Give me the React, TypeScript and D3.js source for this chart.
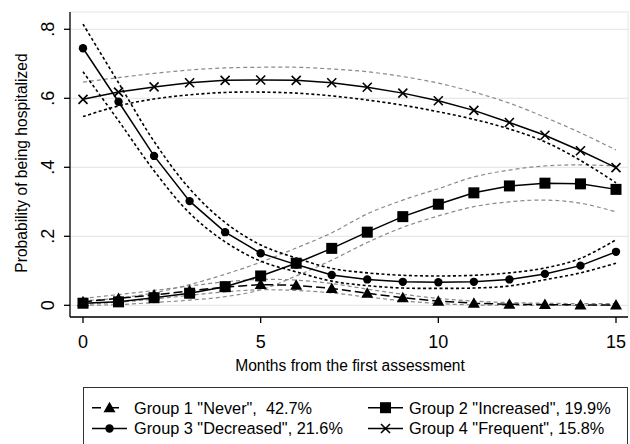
import React from 'react';
import * as d3 from 'd3';

// months from the first assessment
const months = [0, 1, 2, 3, 4, 5, 6, 7, 8, 9, 10, 11, 12, 13, 14, 15];

// Group 1 "Never"
const never = [0.01, 0.02, 0.03, 0.042, 0.053, 0.06, 0.058, 0.049, 0.035, 0.022, 0.012, 0.006, 0.003, 0.002, 0.001, 0.001];
const neverHi = [0.02, 0.031, 0.043, 0.056, 0.068, 0.075, 0.073, 0.063, 0.047, 0.032, 0.02, 0.012, 0.008, 0.006, 0.005, 0.005];
const neverLo = [0.003, 0.009, 0.018, 0.029, 0.039, 0.045, 0.043, 0.036, 0.024, 0.013, 0.005, 0.001, 0, 0, 0, 0];

// Group 2 "Increased"
const increased = [0.006, 0.01, 0.022, 0.035, 0.054, 0.085, 0.122, 0.165, 0.212, 0.257, 0.293, 0.326, 0.346, 0.354, 0.352, 0.336];
const increasedHi = [0.013, 0.021, 0.036, 0.06, 0.09, 0.125, 0.166, 0.21, 0.265, 0.305, 0.338, 0.372, 0.392, 0.404, 0.407, 0.404];
const increasedLo = [0, 0.002, 0.008, 0.015, 0.025, 0.045, 0.085, 0.131, 0.182, 0.226, 0.259, 0.286, 0.3, 0.305, 0.296, 0.271];

// Group 3 "Decreased"
const decreased = [0.745, 0.59, 0.433, 0.302, 0.212, 0.151, 0.118, 0.088, 0.075, 0.068, 0.067, 0.068, 0.075, 0.091, 0.115, 0.155];
const decreasedHi = [0.815, 0.645, 0.475, 0.338, 0.24, 0.175, 0.137, 0.107, 0.094, 0.087, 0.085, 0.087, 0.094, 0.108, 0.136, 0.19];
const decreasedLo = [0.677, 0.535, 0.39, 0.267, 0.184, 0.128, 0.097, 0.07, 0.057, 0.05, 0.049, 0.05, 0.056, 0.074, 0.094, 0.122];

// Group 4 "Frequent"
const frequent = [0.597, 0.618, 0.633, 0.645, 0.652, 0.653, 0.652, 0.645, 0.632, 0.615, 0.593, 0.565, 0.53, 0.493, 0.448, 0.399];
const frequentHi = [0.647, 0.66, 0.672, 0.682, 0.688, 0.69, 0.69, 0.685, 0.677, 0.663, 0.644, 0.618, 0.586, 0.545, 0.5, 0.45];
const frequentLo = [0.547, 0.578, 0.598, 0.61, 0.617, 0.618, 0.615, 0.607, 0.595, 0.58, 0.561, 0.539, 0.511, 0.474, 0.42, 0.355];

const xTicks = [0, 5, 10, 15];
const yTicks = [0, 0.2, 0.4, 0.6, 0.8];
const yTickLabels = ['0', '.2', '.4', '.6', '.8'];

const legendLabels = [
  'Group 1 "Never",  42.7%',
  'Group 2 "Increased", 19.9%',
  'Group 3 "Decreased", 21.6%',
  'Group 4 "Frequent", 15.8%',
];

const FONT = 'Arial, "Liberation Sans", Helvetica, sans-serif';
const GRAY = '#8a8a8a';

const Marker = ({ kind, cx, cy }: { kind: string; cx: number; cy: number }) => {
  if (kind === 'triangle') {
    const p = d3.path();
    p.moveTo(cx - 6, cy + 4.5);
    p.lineTo(cx + 6, cy + 4.5);
    p.lineTo(cx, cy - 6);
    p.closePath();
    return <path d={p.toString()} fill="#000" />;
  }
  if (kind === 'square') {
    return <rect x={cx - 5.5} y={cy - 5.5} width={11} height={11} fill="#000" />;
  }
  if (kind === 'circle') {
    return <circle cx={cx} cy={cy} r={4.2} fill="#000" />;
  }
  return (
    <g stroke="#000" strokeWidth={1.6}>
      <line x1={cx - 4.5} y1={cy - 4.5} x2={cx + 4.5} y2={cy + 4.5} />
      <line x1={cx - 4.5} y1={cy + 4.5} x2={cx + 4.5} y2={cy - 4.5} />
    </g>
  );
};

export default function App() {
  const width = 630;
  const height = 444;
  const plot = { left: 70, right: 628, top: 12, bottom: 317 };

  const x = d3.scaleLinear().domain([0, 15]).range([83, 616]);
  const y = d3.scaleLinear().domain([0, 0.8]).range([305.3, 29.3]);

  const line = (vals: number[], curve = d3.curveLinear) =>
    d3
      .line<number>()
      .x((_, i) => x(months[i]))
      .y((d) => y(d))
      .curve(curve)(vals) || '';

  const ciSmooth = d3.curveCatmullRom.alpha(0.5);

  const bands = [
    { vals: neverHi, color: GRAY, dash: '4 3', w: 1.2 },
    { vals: neverLo, color: GRAY, dash: '4 3', w: 1.2 },
    { vals: increasedHi, color: GRAY, dash: '4 3', w: 1.2 },
    { vals: increasedLo, color: GRAY, dash: '4 3', w: 1.2 },
    { vals: frequentHi, color: GRAY, dash: '4 3', w: 1.2 },
    { vals: decreasedHi, color: '#000', dash: '3 2.5', w: 1.6 },
    { vals: decreasedLo, color: '#000', dash: '3 2.5', w: 1.6 },
    { vals: frequentLo, color: '#000', dash: '3 2.5', w: 1.6 },
  ];

  const series = [
    { vals: never, kind: 'triangle', dash: '9 4' },
    { vals: increased, kind: 'square', dash: undefined },
    { vals: decreased, kind: 'circle', dash: undefined },
    { vals: frequent, kind: 'x', dash: undefined },
  ];

  const legendRows = [407.7, 428.5];
  const legendCols = [
    { x1: 92, x2: 127, text: 134 },
    { x1: 368, x2: 403, text: 409 },
  ];
  const legendItems = [
    { s: series[0], col: 0, row: 0, label: legendLabels[0] },
    { s: series[1], col: 1, row: 0, label: legendLabels[1] },
    { s: series[2], col: 0, row: 1, label: legendLabels[2] },
    { s: series[3], col: 1, row: 1, label: legendLabels[3] },
  ];

  return (
    <svg
      width={width}
      height={height}
      style={{ position: 'absolute', left: 0, top: 0, background: '#fff' }}
      fontFamily={FONT}
    >
      <rect x={0} y={0} width={width} height={height} fill="#fff" />
      {/* plot region */}
      <rect
        x={plot.left}
        y={plot.top}
        width={plot.right - plot.left}
        height={plot.bottom - plot.top}
        fill="#fff"
        stroke="#e6e6e6"
        strokeWidth={1}
      />
      {yTicks.map((t) => (
        <line key={t} x1={plot.left} x2={plot.right} y1={y(t)} y2={y(t)} stroke="#e8e8e8" strokeWidth={1.2} />
      ))}

      {/* confidence bands */}
      {bands.map((b, i) => (
        <path
          key={i}
          d={line(b.vals, ciSmooth)}
          fill="none"
          stroke={b.color}
          strokeWidth={b.w}
          strokeDasharray={b.dash}
        />
      ))}

      {/* trajectories */}
      {series.map((s, i) => (
        <g key={i}>
          <path d={line(s.vals)} fill="none" stroke="#000" strokeWidth={1.5} strokeDasharray={s.dash} />
          {s.vals.map((v, j) => (
            <Marker key={j} kind={s.kind} cx={x(months[j])} cy={y(v)} />
          ))}
        </g>
      ))}

      {/* axes */}
      <line x1={plot.left} x2={plot.left} y1={plot.top} y2={plot.bottom} stroke="#000" strokeWidth={1.3} />
      <line x1={plot.left} x2={plot.right} y1={plot.bottom} y2={plot.bottom} stroke="#000" strokeWidth={1.3} />
      {yTicks.map((t, i) => (
        <g key={t}>
          <line x1={plot.left - 6} x2={plot.left} y1={y(t)} y2={y(t)} stroke="#000" strokeWidth={1.3} />
          <text
            transform={`translate(54,${y(t)}) rotate(-90)`}
            textAnchor="middle"
            fontSize={18}
            fill="#000"
          >
            {yTickLabels[i]}
          </text>
        </g>
      ))}
      {xTicks.map((t) => (
        <g key={t}>
          <line x1={x(t)} x2={x(t)} y1={plot.bottom} y2={plot.bottom + 6} stroke="#000" strokeWidth={1.3} />
          <text x={x(t)} y={348} textAnchor="middle" fontSize={18} fill="#000">
            {t}
          </text>
        </g>
      ))}
      <text transform="translate(27,163) rotate(-90)" textAnchor="middle" fontSize={15.6} fill="#000">
        Probability of being hospitalized
      </text>
      <text x={350} y={371} textAnchor="middle" fontSize={15.6} fill="#000">
        Months from the first assessment
      </text>

      {/* legend */}
      <rect x={83.5} y={387.5} width={544} height={70} fill="none" stroke="#333" strokeWidth={1} />
      {legendItems.map((it, i) => {
        const c = legendCols[it.col];
        const cy = legendRows[it.row];
        const mid = (c.x1 + c.x2) / 2;
        return (
          <g key={i}>
            <line
              x1={c.x1}
              x2={c.x2}
              y1={cy}
              y2={cy}
              stroke="#000"
              strokeWidth={1.5}
              strokeDasharray={it.s.dash ? '9 9' : undefined}
            />
            <Marker kind={it.s.kind} cx={mid} cy={cy} />
            <text x={c.text} y={cy + 5.8} fontSize={16.3} fill="#000" style={{ whiteSpace: 'pre' }}>
              {it.label}
            </text>
          </g>
        );
      })}
    </svg>
  );
}
